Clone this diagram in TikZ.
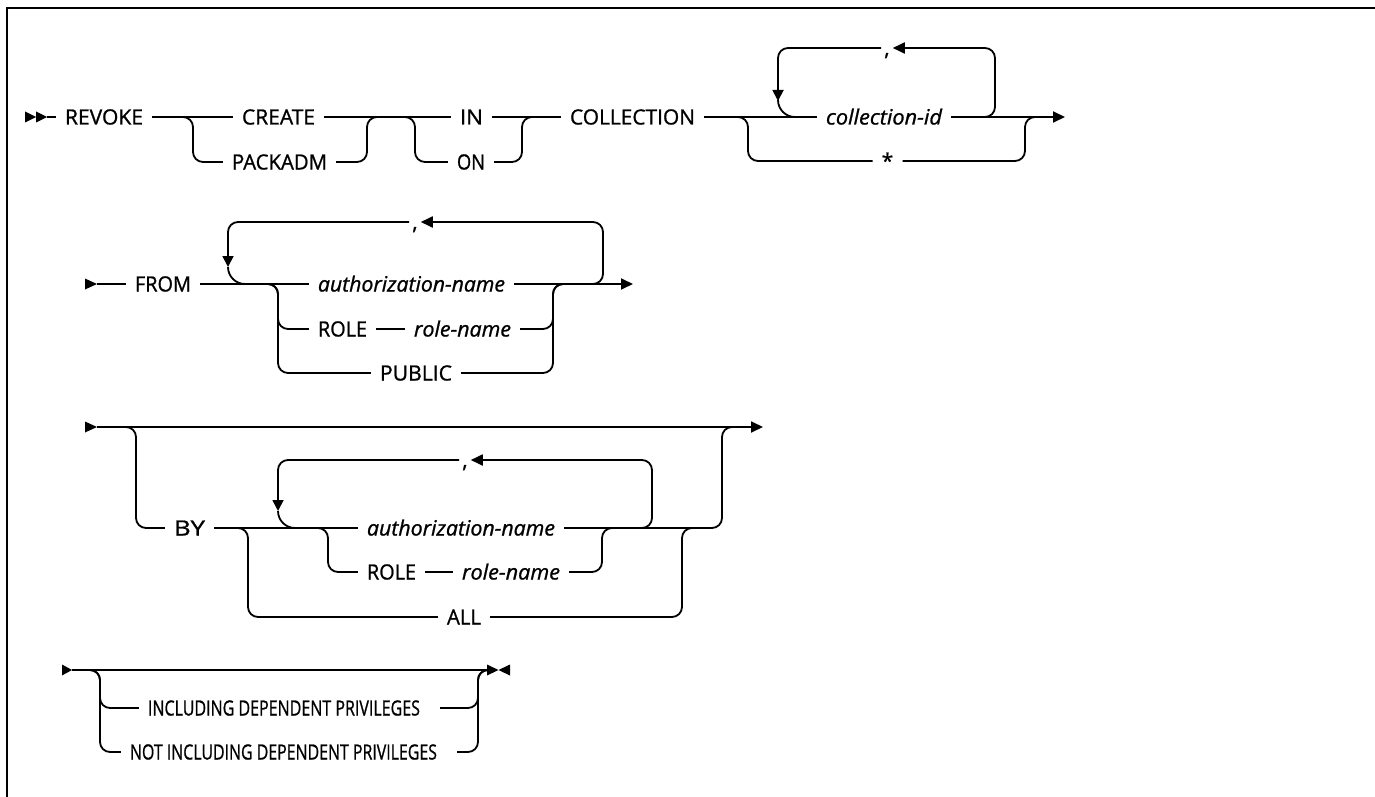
\documentclass[tikz,border=0pt]{standalone}
\usepackage{fontspec}
\usepackage{graphicx}
\usetikzlibrary{arrows.meta}
\newfontfamily\rrfont[FakeBold=1.0]{Open Sans}
\newcommand\fw[2]{\resizebox{#1pt}{\height}{#2}}
\tikzset{
  rrline/.style={line width=1.8pt, rounded corners=10pt},
  loopend/.style={line width=1.8pt, rounded corners=17pt},
  kwtext/.style={font={\rrfont\fontsize{21pt}{25pt}\selectfont}, inner ysep=0pt, inner xsep=9pt, text height=15pt, text depth=0pt, anchor=center},
  vartext/.style={kwtext, font={\rrfont\itshape\fontsize{21pt}{25pt}\selectfont}},
  commanode/.style={kwtext, inner xsep=3pt},
  arrtip/.style={-{Triangle[length=12pt,width=11pt]}},
  downtip/.style={-{Triangle[length=11pt,width=11pt]}},
  frameline/.style={line width=2.5pt}
}
\begin{document}
\begin{tikzpicture}[x=1pt,y=-1pt]
\useasboundingbox (0,0) rectangle (1375,797);
\draw[frameline] (7,797) -- (7,8) -- (1375,8);

% ---------- row 1 ----------
\coordinate (s1) at (47,117);
\fill (25,111.5) -- (36,117) -- (25,122.5) -- cycle;
\fill (36,111.5) -- (s1) -- (36,122.5) -- cycle;
\node[kwtext] (revoke) at (104,117) {\fw{78}{REVOKE}};
\node[kwtext] (create) at (278.5,117) {\fw{73}{CREATE}};
\node[kwtext] (packadm) at (279.5,162) {\fw{95}{PACKADM}};
\node[kwtext] (in) at (471.5,117) {\fw{23}{IN}};
\node[kwtext] (on) at (471,162) {\fw{28}{ON}};
\node[kwtext] (coll) at (632.5,117) {\fw{125}{COLLECTION}};
\node[vartext] (cid) at (884,117) {\fw{116}{collection-id}};
\node[kwtext] (star) at (887.5,161) {*};
\node[commanode] (c1) at (887,48) {,};
\coordinate (e1) at (1065,117);

\draw[rrline] (s1) -- (revoke.west);
\draw[rrline] (revoke.east) -- (create.west);
\draw[rrline] (create.east) -- (in.west);
\draw[rrline] (in.east) -- (coll.west);
\draw[rrline] (coll.east) -- (cid.west);
\draw[rrline,arrtip] (cid.east) -- (e1);
\coordinate (b1) at (183,117);
\draw[rrline] (b1) -- ++(10,0) |- (packadm.west);
\coordinate (m1) at (367,117);
\draw[rrline] (packadm.east) -| (m1) -- ++(10,0);
\coordinate (b2) at (405,117);
\draw[rrline] (b2) -- ++(10,0) |- (on.west);
\coordinate (m2) at (522,117);
\draw[rrline] (on.east) -| (m2) -- ++(10,0);
\coordinate (b3) at (738,117);
\draw[rrline] (b3) -- ++(10,0) |- (star.west);
\coordinate (m3) at (1025,117);
\draw[rrline] (star.east) -| (m3) -- ++(10,0);
\coordinate (lr1) at (985,117);
\draw[rrline,arrtip] (lr1) -- ++(10,0) |- (c1.east);
\coordinate (ll1) at (778,101);
\draw[rrline,downtip] (c1.west) -| (ll1);
\draw[loopend] (ll1) |- ++(16,16);

% ---------- row 2 ----------
\coordinate (s2) at (97,284);
\fill (85,278.5) -- (s2) -- (85,289.5) -- cycle;
\node[kwtext] (from) at (163,284) {\fw{56}{FROM}};
\node[vartext] (auth1) at (411.5,284) {\fw{187}{authorization-name}};
\node[kwtext] (role1) at (342.5,329) {\fw{49}{ROLE}};
\node[vartext] (rn1) at (462.5,329) {\fw{97}{role-name}};
\node[kwtext] (public) at (416,373) {\fw{72}{PUBLIC}};
\node[commanode] (c2) at (415,222) {,};
\coordinate (e2) at (633,284);
\draw[rrline] (s2) -- (from.west);
\draw[rrline] (from.east) -- (auth1.west);
\draw[rrline,arrtip] (auth1.east) -- (e2);
\coordinate (b4) at (268,284);
\draw[rrline] (b4) -- ++(10,0) |- (role1.west);
\draw[rrline] (b4) -- ++(10,0) |- (public.west);
\draw[rrline] (role1.east) -- (rn1.west);
\coordinate (m4) at (553,284);
\draw[rrline] (rn1.east) -| (m4) -- ++(10,0);
\draw[rrline] (public.east) -| (m4) -- ++(10,0);
\coordinate (lr2) at (593,284);
\draw[rrline,arrtip] (lr2) -- ++(10,0) |- (c2.east);
\coordinate (ll2) at (228,267);
\draw[rrline,downtip] (c2.west) -| (ll2);
\draw[loopend] (ll2) |- ++(17,17);

% ---------- row 3 ----------
\coordinate (s3) at (97,427);
\fill (85,421.5) -- (s3) -- (85,432.5) -- cycle;
\coordinate (e3) at (763,427);
\draw[rrline,arrtip] (s3) -- (e3);
\node[kwtext] (by) at (189.5,528) {\fw{31}{BY}};
\node[vartext] (auth2) at (461,528) {\fw{188}{authorization-name}};
\node[kwtext] (role2) at (391.5,572) {\fw{49}{ROLE}};
\node[vartext] (rn2) at (511,572) {\fw{98}{role-name}};
\node[kwtext] (all) at (464,617) {\fw{34}{ALL}};
\node[commanode] (c3) at (465,460) {,};
\coordinate (b5) at (126,427);
\draw[rrline] (b5) -- ++(10,0) |- (by.west);
\draw[rrline] (by.east) -- (auth2.west);
\coordinate (b6) at (238,528);
\draw[rrline] (b6) -- ++(10,0) |- (all.west);
\coordinate (b7) at (318,528);
\draw[rrline] (b7) -- ++(10,0) |- (role2.west);
\draw[rrline] (role2.east) -- (rn2.west);
\coordinate (m7) at (602,528);
\draw[rrline] (rn2.east) -| (m7) -- ++(10,0);
\coordinate (m6) at (682,528);
\draw[rrline] (all.east) -| (m6) -- ++(10,0);
\coordinate (m5) at (722,427);
\draw[rrline] (auth2.east) -| (m5) -- ++(10,0);
\coordinate (lr3) at (642,528);
\draw[rrline,arrtip] (lr3) -- ++(10,0) |- (c3.east);
\coordinate (ll3) at (278,511);
\draw[rrline,downtip] (c3.west) -| (ll3);
\draw[loopend] (ll3) |- ++(17,17);

% ---------- row 4 ----------
\coordinate (s4) at (72,670);
\fill (62,664.5) -- (s4) -- (62,675.5) -- cycle;
\coordinate (e4) at (487,670);
\draw[rrline] (s4) -- (e4);
\fill (487,664.5) -- (498.5,670) -- (487,675.5) -- cycle;
\fill (510,664.5) -- (498.5,670) -- (510,675.5) -- cycle;
\node[kwtext] (inc) at (289.5,708) {\fw{272}{INCLUDING DEPENDENT PRIVILEGES}\hspace*{11pt}};
\node[kwtext] (ninc) at (289,752) {\fw{307}{NOT INCLUDING DEPENDENT PRIVILEGES}\hspace*{11pt}};
\coordinate (b8) at (90,670);
\draw[rrline] (b8) -- ++(10,0) |- (inc.west);
\draw[rrline] (b8) -- ++(10,0) |- (ninc.west);
\coordinate (m8) at (478,670);
\draw[rrline] (inc.east) -| (m8) -- ++(9,0);
\draw[rrline] (ninc.east) -| (m8) -- ++(9,0);
\end{tikzpicture}
\end{document}
